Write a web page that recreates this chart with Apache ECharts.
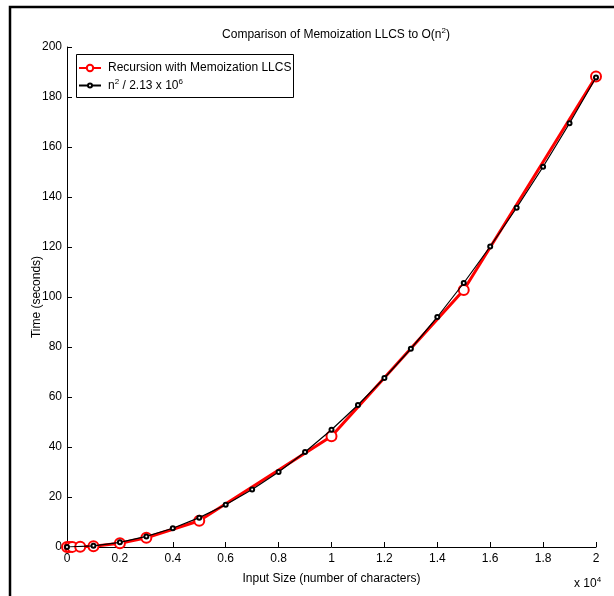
<!DOCTYPE html>
<html>
<head>
<meta charset="utf-8">
<script src="https://cdn.jsdelivr.net/npm/echarts@6/dist/echarts.min.js"></script>
<style>
  html, body { margin: 0; padding: 0; background: #fff; }
  #chart { width: 614px; height: 596px; }
</style>
</head>
<body>
<div id="chart"></div>
<script>
// input size in characters, time in seconds
const memoX = [0, 100, 200, 500, 1000, 2000, 3000, 5000, 10000, 15000, 20000];
const memoY = [0.02, 0.03, 0.05, 0.1, 0.3, 1.5, 3.7, 10.5, 44.3, 102.8, 188.2];

const fitX = [0, 1000, 2000, 3000, 4000, 5000, 6000, 7000, 8000, 9000, 10000,
  11000, 12000, 13000, 14000, 15000, 16000, 17000, 18000, 19000, 20000];
const fitY = [0, 0.47, 1.88, 4.23, 7.51, 11.74, 16.9, 23.0, 30.0, 38.0, 46.9,
  56.8, 67.6, 79.3, 92.0, 105.6, 120.2, 135.7, 152.1, 169.5, 187.8];

const memoName = "Recursion with Memoization LLCS";
const fitName = "n^2 / 2.13 x 10^6";

const FONT = "Liberation Sans, Arial, Helvetica, sans-serif";
const sup = { fontSize: 8, fontFamily: FONT, color: "#000", padding: [0, 0, 7, 0] };

const chart = echarts.init(document.getElementById("chart"), null, { renderer: "canvas" });

// two legends so each icon can get its own size; the box is a graphic rect
const legendBase = {
  orient: "vertical",
  left: 78,
  padding: 0,
  itemWidth: 22,
  itemGap: 0,
  textStyle: {
    fontSize: 12, color: "#000", fontFamily: FONT, padding: [0, 0, 0, 2],
    rich: { sup: sup }
  },
  formatter: (n) => n === fitName ? "n{sup|2} / 2.13 x 10{sup|6}" : n
};

chart.setOption({
  animation: false,
  backgroundColor: "#fff",
  textStyle: { fontFamily: FONT },
  grid: { left: 67, top: 47, width: 529, height: 500, outerBoundsMode: "none" },
  title: {
    text: "Comparison of Memoization LLCS to O(n{sup|2})",
    left: 331,
    textAlign: "center",
    top: 22,
    textStyle: {
      fontSize: 12, fontWeight: "normal", color: "#000", fontFamily: FONT,
      rich: { sup: sup }
    }
  },
  legend: [
    Object.assign({}, legendBase, { top: 62, itemHeight: 8, data: [memoName] }),
    Object.assign({}, legendBase, { top: 78, itemHeight: 5, data: [fitName] })
  ],
  xAxis: {
    type: "value",
    min: 0,
    max: 20000,
    interval: 2000,
    name: "Input Size (number of characters)",
    nameLocation: "middle",
    nameGap: 26,
    nameTextStyle: { fontSize: 12, color: "#000", fontFamily: FONT },
    axisLine: { lineStyle: { color: "#000", width: 1 } },
    axisTick: { inside: true, length: 5, lineStyle: { color: "#000" } },
    axisLabel: {
      margin: 6, fontSize: 12, color: "#000", fontFamily: FONT,
      formatter: (v) => String(v / 10000)
    },
    splitLine: { show: false }
  },
  yAxis: {
    type: "value",
    min: 0,
    max: 200,
    interval: 20,
    name: "Time (seconds)",
    nameLocation: "middle",
    nameGap: 24,
    nameMoveOverlap: false,
    nameTextStyle: { fontSize: 12, color: "#000", fontFamily: FONT },
    axisLine: { show: true, lineStyle: { color: "#000", width: 1 } },
    axisTick: { show: true, inside: true, length: 5, lineStyle: { color: "#000" } },
    axisLabel: { margin: 5, fontSize: 12, color: "#000", fontFamily: FONT },
    splitLine: { show: false }
  },
  series: [
    {
      name: memoName,
      type: "line",
      data: memoX.map((x, i) => [x, memoY[i]]),
      symbol: "emptyCircle",
      symbolSize: 10,
      lineStyle: { color: "#ff0000", width: 3 },
      itemStyle: { color: "#ff0000", borderColor: "#ff0000", borderWidth: 2.5 },
      z: 2
    },
    {
      name: fitName,
      type: "line",
      data: fitX.map((x, i) => [x, fitY[i]]),
      symbol: "emptyCircle",
      symbolSize: 4,
      lineStyle: { color: "#000", width: 1.2 },
      itemStyle: { color: "#000", borderColor: "#000", borderWidth: 1.2 },
      z: 3
    }
  ],
  graphic: [
    {
      type: "rect",
      shape: { x: 76.5, y: 54.5, width: 217, height: 43 },
      style: { stroke: "#000", lineWidth: 1, fill: null },
      z: 0
    },
    {
      type: "text",
      left: 574,
      top: 576,
      style: {
        text: "x 10{sup|4}",
        fontSize: 12, fill: "#000", fontFamily: FONT,
        rich: { sup: sup }
      }
    },
    {
      type: "polyline",
      shape: { points: [[10, 596], [10, 7], [614, 7]] },
      style: { stroke: "#000", lineWidth: 2.5, fill: null }
    }
  ]
});
</script>
</body>
</html>
